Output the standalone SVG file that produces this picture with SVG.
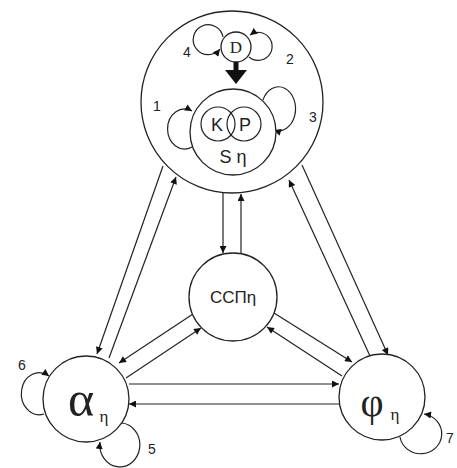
<svg xmlns="http://www.w3.org/2000/svg" width="457" height="468" viewBox="0 0 457 468">
<defs>
<marker id="ah" viewBox="0 0 10 10" refX="10" refY="5" markerWidth="9" markerHeight="7" markerUnits="userSpaceOnUse" orient="auto">
<path d="M0,0 L10,5 L0,10 z" fill="#111"/>
</marker>
</defs>
<style>
.n{fill:#fff;stroke:#222;stroke-width:1.3}
.c{fill:none;stroke:#222;stroke-width:1.2;marker-end:url(#ah)}
.s{font-family:"Liberation Sans",Arial,sans-serif;fill:#222;text-anchor:middle}
.r{font-family:"Liberation Serif","Times New Roman",serif;fill:#222;text-anchor:middle}
</style>
<rect width="457" height="468" fill="#fff"/>
<g id="connectors">
<line class="c" x1="163" y1="166" x2="97" y2="354"/>
<line class="c" x1="109" y1="358" x2="176" y2="177"/>
<line class="c" x1="302" y1="165" x2="388" y2="355"/>
<line class="c" x1="370" y1="356" x2="289" y2="180"/>
<line class="c" x1="223" y1="193" x2="223" y2="253"/>
<line class="c" x1="241" y1="253" x2="241" y2="194"/>
<line class="c" x1="193" y1="314" x2="119" y2="363"/>
<line class="c" x1="126" y1="378" x2="201" y2="328"/>
<line class="c" x1="274" y1="313" x2="352" y2="362"/>
<line class="c" x1="342" y1="376" x2="267" y2="327"/>
<line class="c" x1="129" y1="384" x2="339" y2="384"/>
<line class="c" x1="339" y1="404" x2="129" y2="404"/>
</g>
<g id="top">
<circle class="n" cx="232" cy="102" r="91"/>
</g>
<g id="loops">
<path class="c" d="M223 37 A15 15 0 1 0 220 49"/>
<path class="c" d="M249 57 A14 14 0 1 0 250 35"/>
<path class="c" d="M192 147 A17 20 0 1 1 192 111"/>
<path class="c" d="M263 100 A17 22 0 1 1 274 130"/>
<path class="c" d="M44 414 A18 21 0 1 1 49 376"/>
<path class="c" d="M122 423 A20 22 0 1 1 100 442"/>
<path class="c" d="M400 437 A21 20 0 1 0 424 414"/>
</g>
<g id="D">
<circle class="n" cx="236" cy="47" r="15"/>
<text class="r" x="236" y="53" font-size="17">D</text>
</g>
<g id="thick-arrow">
<line x1="236" y1="62" x2="236" y2="72" stroke="#111" stroke-width="5"/>
<polygon points="225,70 247,70 236,84" fill="#111"/>
</g>
<g id="S">
<circle class="n" cx="233" cy="132" r="43"/>
<circle cx="218" cy="124" r="17" fill="none" stroke="#222" stroke-width="1.2"/>
<circle cx="244" cy="124" r="17" fill="none" stroke="#222" stroke-width="1.2"/>
<text class="s" x="217" y="131" font-size="18">K</text>
<text class="s" x="245" y="131" font-size="18">P</text>
<text class="s" x="233" y="163" font-size="18">S η</text>
</g>
<g id="SSP">
<circle class="n" cx="233" cy="297" r="44"/>
<text class="s" x="233" y="303" font-size="17">ССПη</text>
</g>
<g id="alpha">
<circle class="n" cx="86" cy="399" r="43"/>
<text class="r" x="81" y="416" font-size="50">α</text>
<text class="r" x="104" y="422" font-size="17">η</text>
</g>
<g id="phi">
<circle class="n" cx="382" cy="397" r="43"/>
<text class="r" x="372" y="416" font-size="40">φ</text>
<text class="r" x="395" y="420" font-size="17">η</text>
</g>
<g id="labels">
<text class="s" x="187" y="57" font-size="14">4</text>
<text class="s" x="290" y="64" font-size="14">2</text>
<text class="s" x="157" y="111" font-size="14">1</text>
<text class="s" x="313" y="122" font-size="14">3</text>
<text class="s" x="152" y="454" font-size="14">5</text>
<text class="s" x="22" y="370" font-size="14">6</text>
<text class="s" x="450" y="443" font-size="14">7</text>
</g>
</svg>
